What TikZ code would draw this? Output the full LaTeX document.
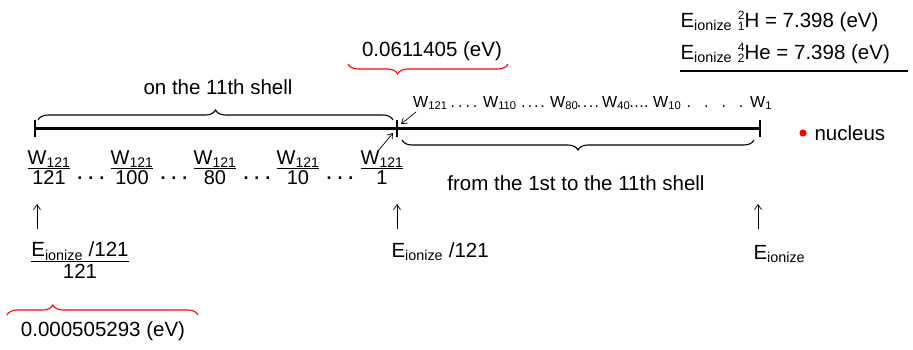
\documentclass[tikz,border=0pt]{standalone}
\usepackage{fontspec}
\setmainfont{Liberation Sans}
\usetikzlibrary{positioning,decorations.pathreplacing,arrows.meta}
\setlength{\arrayrulewidth}{1.4pt}
\newcommand{\Eion}{E\textsubscript{ionize}}
\newcommand{\Wn}[1]{W\textsubscript{#1}}
\newcommand{\nuc}[3]{\raisebox{-3.5pt}{\fontsize{12}{10}\selectfont\shortstack[l]{#1\\#2}}#3}
\newcommand{\wfrac}[2]{\begin{tabular}{@{}c@{}}#1\\[-3pt]\hline\rule{0pt}{15pt}#2\end{tabular}}
\newcommand{\wdots}[1]{.\hspace{#1}.\hspace{#1}.\hspace{#1}.}

\begin{document}
\begin{tikzpicture}[x=1pt, y=-1pt,
    font=\fontsize{20.5}{23}\selectfont,
    small/.style={font=\fontsize{16}{18}\selectfont},
    tick/.style={fill, inner sep=0pt, minimum width=2.6pt, minimum height=17pt},
    brc/.style={decorate, line width=1.1pt, decoration={brace, amplitude=10pt, #1}},
    brc/.default={aspect=0.5},
    pointer/.style={-{Straight Barb[length=5pt,width=7pt]}, line width=0.7pt}]
  \useasboundingbox (0,0) rectangle (913,349);

  % the line with the three marks
  \node[tick] (t0) at (35,128) {};
  \node[tick] (t1) at (397,128) {};
  \node[tick] (t2) at (760,128) {};
  \draw[line width=3pt] (t0.center) -- (t2.center);

  % braces and what they stand for
  \draw[brc] ([shift={(3,-8)}]t0.center) -- ([shift={(-4,-8)}]t1.center);
  \node (shell11) at (218,87) {on the 11th shell};
  \draw[brc] ([shift={(-6,12)}]t2.center) -- ([shift={(5,12)}]t1.center);
  \node (shells) at (576,183) {from the 1st to the 11th shell};
  \draw[brc={aspect=0.69}, red] (508,64) -- (348,64);
  \node (eshell) at (432,51) {0.0611405 (eV)};
  \draw[brc={aspect=0.24}, red] (7,315) -- (198,315);
  \node (elevel) at (103,331) {0.000505293 (eV)};

  % levels in the right part
  \foreach \n/\x in {121/413, 110/483, 80/550, 40/602, 10/653, 1/750}
    \node[small, anchor=base west, inner sep=0pt] (w\n) at (\x,107) {\Wn{\n}};
  \foreach \x/\s in {464/3pt, 533/2pt, 588/1.5pt, 639/0.5pt, 715/13pt}
    \node[small, anchor=base, inner sep=0pt] at (\x,107) {\wdots{\s}};

  % levels on the 11th shell
  \foreach \d/\x in {121/49, 100/132, 80/215, 10/298, 1/382}
    \node[font=\fontsize{20}{22}\selectfont] (f\d) at (\x,170) {\wfrac{\Wn{121}}{\d}};
  \foreach \x in {91, 174, 257, 340}
    \node[font=\fontsize{18}{20}\selectfont\bfseries, inner sep=0pt] at (\x,178) {.\,\,.\,\,.};

  \coordinate (p1) at (416,112);
  \coordinate (p2) at (378,151);
  \draw[pointer] (p1) -- ([shift={(4,-4)}]t1.center);
  \draw[pointer] (p2) -- ([shift={(-4,5)}]t1.center);

  % energies below
  \node (e0) at (80,263) {\wfrac{\Eion\ /121}{121}};
  \node[anchor=base west] (e1) at (388,257) {\Eion\ /121};
  \node[anchor=base west] (e2) at (750,259) {\Eion};
  \foreach \x/\e in {37/e0, 397/e1, 758/e2}
    \draw[pointer] (\x,229) -- (\x,204);

  \fill[red] (803,133) circle (3.6pt);
  \node[anchor=west] (nucleus) at (811,133) {nucleus};

  % ionization energies
  \node[anchor=base west] (eh) at (677,27) {\Eion\ \nuc{2}{1}{H} = 7.398 (eV)};
  \node[anchor=base west] (ehe) at (677,59) {\Eion\ \nuc{4}{2}{He} = 7.398 (eV)};
  \draw[line width=2.5pt] (680,71) -- (908,71);
\end{tikzpicture}
\end{document}
